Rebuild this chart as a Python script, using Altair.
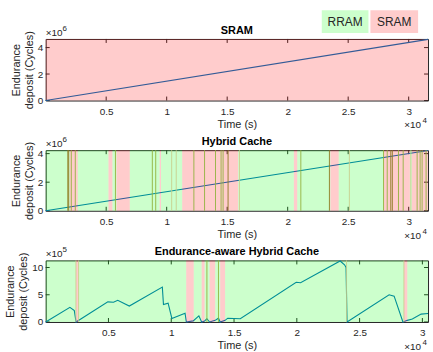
import altair as alt
import pandas as pd

FONT = "Liberation Sans"
W = 385
TXT = "#262626"

# shared x tick positions (s)
x_ticks = [5000, 10000, 15000, 20000, 25000, 30000]

# ---------- Panel 1 : SRAM ----------
p1_title = "SRAM"
p1_time = [0, 31600]
p1_deposit = [0, 4.62e6]
p1_bounds = [0, 31600]
p1_state = ["SRAM"]
p1_yticks = [0, 2e6, 4e6]
p1_ymax = 4.65e6
p1_xmax = 31600

# ---------- Panel 2 : Hybrid Cache ----------
p2_title = "Hybrid Cache"
p2_time = [0, 31600]
p2_deposit = [0, 4.22e6]
p2_bounds = [0, 1990, 2650, 5190, 5520, 5850, 6950, 9420, 9530, 11280, 15910,
             20510, 20790, 23530, 24220, 27920, 30100, 30250, 31600]
p2_state = ["RRAM", "SRAM", "RRAM", "SRAM", "RRAM", "SRAM", "RRAM", "SRAM", "RRAM",
            "SRAM", "RRAM", "SRAM", "RRAM", "SRAM", "RRAM", "SRAM", "RRAM", "SRAM"]
p2_olive = [2117, 2447, 5766, 8814, 9094, 12248, 13130, 14036, 14497, 14662, 21087,
            27923, 28228, 29159, 29546, 30699, 30946, 31111, 31440]
p2_brown = [1830, 1900, 15074, 23450, 28520, 28650]
p2_faint = [10412, 10790, 16013, 25098, 30180]
p2_yticks = [0, 2e6, 4e6]
p2_ymax = 4.24e6
p2_xmax = 31600

# ---------- Panel 3 : Endurance-aware Hybrid Cache ----------
p3_title = "Endurance-aware Hybrid Cache"
p3_time = [0, 1930, 2280, 2420, 4950, 5400, 5740, 6660, 9290, 9380, 9750, 10050,
           11100, 11200, 11750, 12200, 12420, 12660, 12840, 13050, 13500, 13760,
           13895, 14290, 14500, 15500, 19950, 20300, 23450, 23800, 23920, 24000,
           27350, 27750, 28450, 28800, 29200, 29900, 30450]
p3_deposit = [0, 2.68e5, 2.1e5, 0, 3.7e5, 3.62e5, 3.98e5, 2.92e5, 6.4e5, 3.2e5,
              3.45e5, 0.65e5, 1.62e5, 0, 0.2e5, 1.12e5, 0, 0.2e5, 0.6e5, 0, 0.3e5,
              0.7e5, 0, 0.3e5, 0.7e5, 0.6e5, 7.3e5, 7.2e5, 11.2e5, 10.5e5, 10.0e5,
              0, 5.0e5, 4.75e5, 0, 0.3e5, 0.55e5, 1.45e5, 1.55e5]
p3_bounds = [0, 2410, 2620, 11190, 11790, 12420, 12660, 13050, 13500, 13895, 14290,
             28530, 28800, 30450]
p3_state = ["RRAM", "SRAM", "RRAM", "SRAM", "RRAM", "SRAM", "RRAM", "SRAM", "RRAM",
            "SRAM", "RRAM", "SRAM", "RRAM"]
p3_olive = [12840, 13760]
p3_brown = []
p3_faint = [2410, 2620, 23960, 28530]
p3_yticks = [0, 5e5, 1e6]
p3_ymax = 1.13e6
p3_xmax = 30450

legend_states = ["RRAM", "SRAM"]
state_colors = ["#00FF00", "#FF0000"]


def one_row():
    return alt.Data(values=[{"a": 1}])


def panel(title, times, deposits, bounds, states, olive, brown, faint,
          yticks, ymax, xmax, ydiv, yexp, H, legend=False):
    xs = alt.Scale(domain=[0, xmax], nice=False, zero=False)
    ys = alt.Scale(domain=[0, ymax], nice=False, zero=False)

    def X():
        return alt.X("t:Q", scale=xs, title="Time (s)",
                     axis=alt.Axis(values=x_ticks, labelExpr="datum.value / 10000"))

    def Y():
        return alt.Y("v:Q", scale=ys, title=["Endurance", "deposit (Cycles)"],
                     axis=alt.Axis(values=yticks, labelExpr="datum.value / " + str(int(ydiv))))

    line_df = pd.DataFrame({"t": times, "v": deposits})
    seg_df = pd.DataFrame({"t": bounds[:-1], "t2": bounds[1:], "state": states})
    xt_df = pd.DataFrame({"t": x_ticks})
    yt_df = pd.DataFrame({"v": yticks})

    layers = []
    # inward tick marks (box on all sides)
    layers.append(alt.Chart(xt_df).mark_rule(color=TXT, strokeWidth=1).encode(
        x=X(), y=alt.value(0), y2=alt.value(4)))
    layers.append(alt.Chart(xt_df).mark_rule(color=TXT, strokeWidth=1).encode(
        x=X(), y=alt.value(H - 4), y2=alt.value(H)))
    layers.append(alt.Chart(yt_df).mark_rule(color=TXT, strokeWidth=1).encode(
        y=Y(), x=alt.value(0), x2=alt.value(4)))
    layers.append(alt.Chart(yt_df).mark_rule(color=TXT, strokeWidth=1).encode(
        y=Y(), x=alt.value(W - 4), x2=alt.value(W)))

    # data line (drawn under translucent patches, like the original)
    layers.append(alt.Chart(line_df).mark_line(color="#0072BD", strokeWidth=1.1).encode(
        x=X(), y=Y()))

    # RRAM / SRAM patches
    layers.append(alt.Chart(seg_df).mark_rect(opacity=0.2).encode(
        x=X(), x2="t2:Q",
        color=alt.Color("state:N", scale=alt.Scale(domain=legend_states, range=state_colors),
                        legend=None)))

    # patch edges
    for vals, col, op in ((faint, "#C9CC8A", 0.85), (olive, "#93B23E", 0.9), (brown, "#8E7A22", 0.9)):
        if vals:
            layers.append(alt.Chart(pd.DataFrame({"t": vals})).mark_rule(
                color=col, opacity=op, strokeWidth=1).encode(x=X()))

    # panel title
    layers.append(alt.Chart(one_row()).mark_text(
        text=title, font=FONT, fontSize=11, fontWeight="bold", color="#000000",
        align="center", baseline="bottom").encode(
        x=alt.value(W / 2), y=alt.value(-3)))

    # exponent labels
    layers.append(alt.Chart(one_row()).mark_text(
        text="\u00d710", font=FONT, fontSize=10, color=TXT, align="left", baseline="middle").encode(
        x=alt.value(0), y=alt.value(-6)))
    layers.append(alt.Chart(one_row()).mark_text(
        text=yexp, font=FONT, fontSize=8, color=TXT, align="left", baseline="middle").encode(
        x=alt.value(17), y=alt.value(-10)))
    layers.append(alt.Chart(one_row()).mark_text(
        text="\u00d710", font=FONT, fontSize=10, color=TXT, align="right", baseline="middle").encode(
        x=alt.value(W - 7), y=alt.value(H + 25)))
    layers.append(alt.Chart(one_row()).mark_text(
        text="4", font=FONT, fontSize=8, color=TXT, align="right", baseline="middle").encode(
        x=alt.value(W - 1), y=alt.value(H + 21)))

    if legend:
        layers.append(alt.Chart(one_row()).mark_rect(color="#CCFFCC").encode(
            x=alt.value(278), x2=alt.value(325), y=alt.value(-29), y2=alt.value(-6)))
        layers.append(alt.Chart(one_row()).mark_rect(color="#FFCCCC").encode(
            x=alt.value(327), x2=alt.value(375), y=alt.value(-29), y2=alt.value(-6)))
        layers.append(alt.Chart(one_row()).mark_text(
            text=legend_states[0], font=FONT, fontSize=12, color=TXT, baseline="middle").encode(
            x=alt.value(301.5), y=alt.value(-17.5)))
        layers.append(alt.Chart(one_row()).mark_text(
            text=legend_states[1], font=FONT, fontSize=12, color=TXT, baseline="middle").encode(
            x=alt.value(351), y=alt.value(-17.5)))

    return alt.layer(*layers).properties(width=W, height=H)


p1 = panel(p1_title, p1_time, p1_deposit, p1_bounds, p1_state, [], [], [],
           p1_yticks, p1_ymax, p1_xmax, 1e6, "6", 62, legend=True)
p2 = panel(p2_title, p2_time, p2_deposit, p2_bounds, p2_state, p2_olive, p2_brown, p2_faint,
           p2_yticks, p2_ymax, p2_xmax, 1e6, "6", 61)
p3 = panel(p3_title, p3_time, p3_deposit, p3_bounds, p3_state,
           p3_olive, p3_brown, p3_faint, p3_yticks, p3_ymax, p3_xmax, 1e5, "5", 62)

chart = alt.vconcat(p1, p2, p3, spacing=50, bounds="flush").properties(
    padding={"left": 4, "top": 8, "right": 2, "bottom": 0}
).configure_view(
    stroke=TXT, strokeWidth=1
).configure_axis(
    domain=False, ticks=False, grid=False,
    labelFont=FONT, labelFontSize=10, labelColor=TXT,
    titleFont=FONT, titleFontSize=11, titleFontWeight="normal", titleColor=TXT,
).configure_axisX(
    labelPadding=6, titlePadding=2
).configure_axisY(
    labelPadding=3, titlePadding=3, titleLineHeight=13
)

chart.save("out.html", embed_options={"renderer": "svg", "actions": False})
